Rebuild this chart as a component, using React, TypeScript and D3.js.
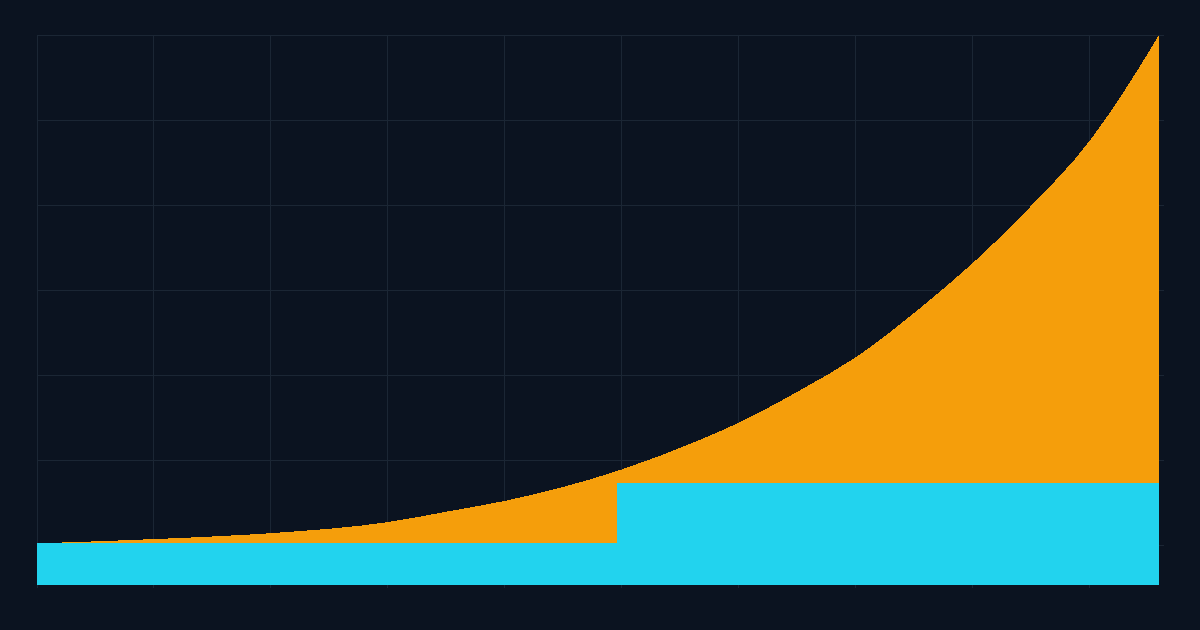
import * as d3 from 'd3';
import { useEffect, useRef } from 'react';

const width = 1200;
const height = 630;
const margin = { top: 35, left: 37, bottom: 45, right: 41 };

// x in grid units (one unit per vertical grid line)
const curveX = [0, 1, 2, 3, 3.53, 4, 5, 5.67, 6, 6.52, 7, 7.55, 8, 8.49, 9, 9.26, 9.59];
// orange growth curve, y in grid units
const curveY = [0.02, 0.07, 0.14, 0.27, 0.4, 0.52, 0.89, 1.24, 1.44, 1.82, 2.21, 2.79, 3.32, 3.98, 4.76, 5.27, 6.0];

// cyan step levels
const stepX = [0, 4.96, 9.59];
const stepY = [0.02, 0.73, 0.73];

const xTicks = [0, 1, 2, 3, 4, 5, 6, 7, 8, 9];
const yTicks = [0, 1, 2, 3, 4, 5, 6];

function App() {
  const ref = useRef<HTMLDivElement>(null);

  useEffect(() => {
    const wrapper = d3.select(ref.current);
    const svg = wrapper
      .append('svg')
      .attr('width', width)
      .attr('height', height)
      .style('display', 'block');

    svg.append('rect').attr('width', width).attr('height', height).attr('fill', '#0b1320');

    const x = d3.scaleLinear().domain([0, 9.59]).range([margin.left, width - margin.right]);
    const y = d3
      .scaleLinear()
      .domain([-0.47, 6])
      .range([height - margin.bottom, margin.top]);

    // grid
    const grid = svg.append('g').attr('stroke', '#1b2634').attr('stroke-width', 1).attr('shape-rendering', 'crispEdges');
    grid
      .selectAll('line.h')
      .data(yTicks)
      .join('line')
      .attr('class', 'h')
      .attr('x1', margin.left)
      .attr('x2', width - margin.right + 5)
      .attr('y1', (d) => y(d))
      .attr('y2', (d) => y(d));
    grid
      .selectAll('line.v')
      .data(xTicks)
      .join('line')
      .attr('class', 'v')
      .attr('x1', (d) => x(d))
      .attr('x2', (d) => x(d))
      .attr('y1', margin.top)
      .attr('y2', height - margin.bottom + 3);

    const curve = curveX.map((d, i) => ({ x: d, y: curveY[i] }));
    const steps = stepX.map((d, i) => ({ x: d, y: stepY[i] }));

    const area = d3
      .area<{ x: number; y: number }>()
      .x((d) => x(d.x))
      .y0(y(-0.47))
      .y1((d) => y(d.y));

    svg
      .append('path')
      .datum(curve)
      .attr('fill', '#f59e0b')
      .attr('shape-rendering', 'crispEdges')
      .attr('d', area.curve(d3.curveMonotoneX));

    svg
      .append('path')
      .datum(steps)
      .attr('fill', '#22d3ee')
      .attr('shape-rendering', 'crispEdges')
      .attr('d', area.curve(d3.curveStepAfter));

    return () => {
      wrapper.select('svg').remove();
    };
  }, []);

  return <div ref={ref} style={{ position: 'fixed', left: 0, top: 0 }}></div>;
}

export default App;
